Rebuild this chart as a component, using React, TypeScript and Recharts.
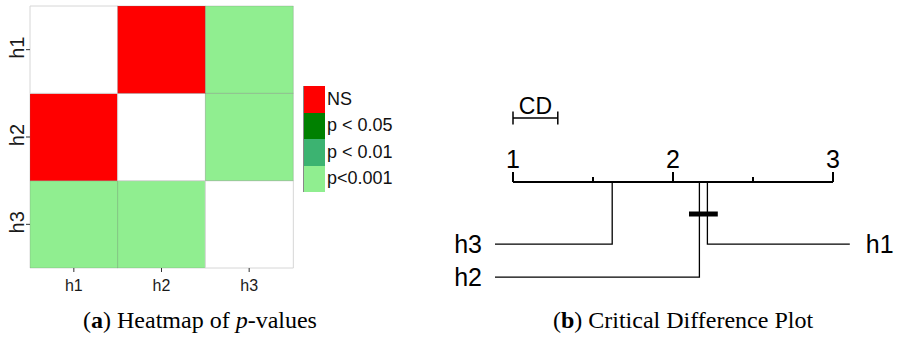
import React from 'react'
import {
  BarChart, Bar, XAxis, YAxis, Cell,
  ComposedChart, Line, ReferenceLine, ReferenceDot,
} from 'recharts'

const methods = ['h1', 'h2', 'h3']
const sigLabels = ['NS', 'p < 0.05', 'p < 0.01', 'p<0.001']
const sigColors = ['#FF0000', '#008000', '#3CB371', '#90EE90']

// significance level of each pair (index into sigLabels), -1 on the diagonal
const h1Sig = [-1, 0, 3]
const h2Sig = [0, -1, 3]
const h3Sig = [3, 3, -1]

// average ranks (h1, h2, h3) and critical difference
const avgRanks = [2.215, 2.165, 1.62]
const cdValue = 0.28
const rankTicks = [1, 1.5, 2, 2.5, 3]

const SANS = '"Liberation Sans", Arial, sans-serif'
const SERIF = '"Liberation Serif", "Times New Roman", serif'

const sigMatrix = [h1Sig, h2Sig, h3Sig]
const cellFill = (r: number, c: number) =>
  sigMatrix[r][c] < 0 ? '#FFFFFF' : sigColors[sigMatrix[r][c]]

// one stacked column per method, rows stacked bottom (h3) to top (h1)
const heatData = methods.map((m) => ({ name: m, r3: 1, r2: 1, r1: 1 }))

function YTick({ x, y, payload }: any) {
  const label = methods[Math.round(2.5 - payload.value)]
  const tx = x - 1
  const ty = y - 2
  return (
    <text
      x={tx}
      y={ty}
      transform={`rotate(-90, ${tx}, ${ty})`}
      textAnchor="middle"
      fontSize={20}
      fontFamily={SANS}
      fill="#1a1a1a"
    >
      {label}
    </text>
  )
}

function Heatmap() {
  return (
    <div style={{ position: 'absolute', left: 0, top: 0 }}>
      <BarChart
        width={340}
        height={300}
        data={heatData}
        margin={{ top: 6, right: 47, left: 0, bottom: 0 }}
        barCategoryGap={0}
        barGap={0}
      >
        <XAxis
          dataKey="name"
          height={32}
          axisLine={false}
          tickSize={4}
          tickMargin={8}
          tickLine={{ stroke: '#333' }}
          tick={{ fontSize: 16, fill: '#1a1a1a', fontFamily: SANS }}
        />
        <YAxis
          type="number"
          domain={[0, 3]}
          ticks={[0.5, 1.5, 2.5]}
          width={30}
          axisLine={false}
          tickSize={4}
          tickMargin={1}
          tickLine={{ stroke: '#333' }}
          tick={<YTick />}
        />
        {[2, 1, 0].map((r) => (
          <Bar key={r} dataKey={`r${r + 1}`} stackId="a" isAnimationActive={false}>
            {heatData.map((_, c) => (
              <Cell
                key={c}
                fill={cellFill(r, c)}
                stroke={sigMatrix[r][c] < 0 ? '#d6d6d6' : 'rgba(110,110,110,0.25)'}
                strokeWidth={1}
              />
            ))}
          </Bar>
        ))}
      </BarChart>
      <div
        style={{
          position: 'absolute', left: 303, top: 86,
          fontFamily: SANS, fontSize: 18, color: '#111',
        }}
      >
        <div style={{ position: 'absolute', left: 0, top: 0, width: 20, height: 104, border: '1px solid #888' }} />
        {sigLabels.map((s, i) => (
          <div key={s} style={{ position: 'absolute', left: 0, top: i * 26.5, display: 'flex', alignItems: 'center', height: 26.5 }}>
            <div style={{ width: 21, height: 26.5, background: sigColors[i], marginLeft: 1, boxSizing: 'border-box' }} />
            <span style={{ marginLeft: 2, whiteSpace: 'nowrap' }}>{s}</span>
          </div>
        ))}
      </div>
    </div>
  )
}

function RankTick({ x, y, payload }: any) {
  const v = payload.value
  const major = Number.isInteger(v)
  return (
    <g>
      <line x1={x} x2={x} y1={y} y2={y - (major ? 10 : 5)} stroke="#000" strokeWidth={2} />
      {major && (
        <text x={x} y={y - 14} textAnchor="middle" fontSize={25} fontFamily={SANS} fill="#000">
          {v}
        </text>
      )}
    </g>
  )
}

function CDPlot() {
  // best half of the methods goes to the left, the rest to the right
  const order = avgRanks.map((r, i) => ({ r, i })).sort((a, b) => a.r - b.r)
  const half = Math.ceil(order.length / 2)
  const left = order.slice(0, half)
  const right = order.slice(half).reverse()
  const rowY = [1.94, 2.97]
  const leftEnd = 0.8875
  const rightEnd = 3.105

  const connectors = [
    ...left.map((o, k) => ({ ...o, y: rowY[k], end: leftEnd, side: 'left' })),
    ...right.map((o, k) => ({ ...o, y: rowY[k], end: rightEnd, side: 'right' })),
  ]

  const cliqueLo = Math.min(avgRanks[0], avgRanks[1]) - 0.065
  const cliqueHi = Math.max(avgRanks[0], avgRanks[1]) + 0.065

  return (
    <div style={{ position: 'absolute', left: 340, top: 0 }}>
      <ComposedChart width={558} height={300} margin={{ top: 0, right: 41, left: 149, bottom: 6 }}>
        <XAxis
          type="number"
          dataKey="x"
          orientation="top"
          domain={[0.85, 3.15]}
          ticks={rankTicks}
          height={182}
          axisLine={false}
          tickLine={false}
          tickSize={0}
          tickMargin={0}
          tick={<RankTick />}
          allowDataOverflow
        />
        <YAxis type="number" domain={[0, 3.5]} reversed hide allowDataOverflow />
        <ReferenceLine
          segment={[{ x: 1, y: 0 }, { x: 3, y: 0 }]}
          stroke="#000"
          strokeWidth={2}
          ifOverflow="visible"
        />
        {/* CD scale bar */}
        <ReferenceLine
          segment={[{ x: 1, y: -2 }, { x: 1 + cdValue, y: -2 }]}
          stroke="#000"
          strokeWidth={1.5}
          ifOverflow="visible"
          label={{ value: 'CD', position: 'top', offset: 4, fontSize: 23, fontFamily: SANS, fill: '#000' }}
        />
        <ReferenceLine segment={[{ x: 1, y: -2.2 }, { x: 1, y: -1.8 }]} stroke="#000" strokeWidth={1.5} ifOverflow="visible" />
        <ReferenceLine segment={[{ x: 1 + cdValue, y: -2.2 }, { x: 1 + cdValue, y: -1.8 }]} stroke="#000" strokeWidth={1.5} ifOverflow="visible" />
        {connectors.map((c) => (
          <Line
            key={c.i}
            data={[{ x: c.r, y: 0 }, { x: c.r, y: c.y }, { x: c.end, y: c.y }]}
            dataKey="y"
            type="linear"
            stroke="#000"
            strokeWidth={1.3}
            dot={false}
            isAnimationActive={false}
          />
        ))}
        <Line
          data={[{ x: cliqueLo, y: 1 }, { x: cliqueHi, y: 1 }]}
          dataKey="y"
          stroke="#000"
          strokeWidth={5}
          dot={false}
          isAnimationActive={false}
        />
        {connectors.map((c) => (
          <ReferenceDot
            key={`l${c.i}`}
            x={c.end}
            y={c.y}
            r={0}
            fill="none"
            stroke="none"
            ifOverflow="visible"
            label={{
              value: methods[c.i],
              position: c.side,
              offset: c.side === 'left' ? 13 : 16,
              fontSize: 25,
              fontFamily: SANS,
              fill: '#000',
            }}
          />
        ))}
      </ComposedChart>
    </div>
  )
}

export default function App() {
  return (
    <div style={{ position: 'absolute', left: 0, top: 0, width: 898, height: 340, background: '#fff', overflow: 'hidden' }}>
      <Heatmap />
      <CDPlot />
      <div style={{ position: 'absolute', top: 307, left: 0, width: 400, textAlign: 'center', fontFamily: SERIF, fontSize: 24, color: '#000', whiteSpace: 'nowrap' }}>
        (<b>a</b>) Heatmap of <i>p</i>-values
      </div>
      <div style={{ position: 'absolute', top: 307, left: 483, width: 400, textAlign: 'center', fontFamily: SERIF, fontSize: 24, color: '#000', whiteSpace: 'nowrap' }}>
        (<b>b</b>) Critical Difference Plot
      </div>
    </div>
  )
}
